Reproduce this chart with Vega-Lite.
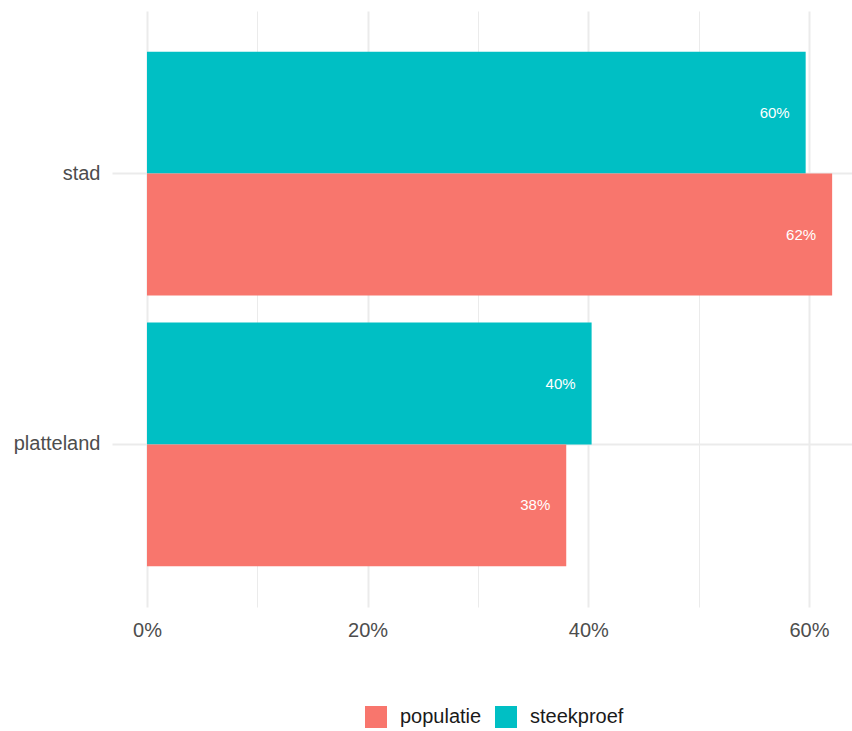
{
  "$schema": "https://vega.github.io/schema/vega-lite/v6.json",
  "width": 740,
  "height": 596,
  "autosize": "none",
  "padding": {"left": 112, "top": 11, "right": 0, "bottom": 124},
  "background": "white",
  "config": {
    "view": {"stroke": null},
    "font": "Liberation Sans",
    "axis": {"labelFont": "Liberation Sans", "titleFont": "Liberation Sans"},
    "legend": {"labelFont": "Liberation Sans"}
  },
  "data": {
    "values": [
      {"gebied": "stad", "groep": "steekproef", "aandeel": 0.597, "label": "60%"},
      {"gebied": "stad", "groep": "populatie", "aandeel": 0.621, "label": "62%"},
      {"gebied": "platteland", "groep": "steekproef", "aandeel": 0.403, "label": "40%"},
      {"gebied": "platteland", "groep": "populatie", "aandeel": 0.38, "label": "38%"}
    ]
  },
  "encoding": {
    "y": {
      "field": "gebied",
      "type": "nominal",
      "sort": ["stad", "platteland"],
      "scale": {"paddingInner": 0.1, "paddingOuter": 0.15},
      "axis": {
        "title": null,
        "domain": false,
        "ticks": false,
        "labelFontSize": 20,
        "labelColor": "#4D4D4D",
        "labelPadding": 12,
        "grid": true,
        "gridColor": "#EBEBEB",
        "gridWidth": 2,
        "bandPosition": 0.5
      }
    },
    "yOffset": {
      "field": "groep",
      "type": "nominal",
      "sort": ["steekproef", "populatie"],
      "scale": {"paddingInner": 0, "paddingOuter": 0}
    }
  },
  "layer": [
    {
      "mark": {"type": "bar"},
      "encoding": {
        "x": {
          "field": "aandeel",
          "type": "quantitative",
          "scale": {"domain": [-0.0317, 0.639], "nice": false, "zero": false},
          "axis": {
            "title": null,
            "orient": "bottom",
            "values": [0.1, 0.3, 0.5],
            "labels": false,
            "ticks": false,
            "domain": false,
            "grid": true,
            "gridColor": "#EBEBEB",
            "gridWidth": 1
          }
        },
        "x2": {"datum": 0},
        "color": {
          "field": "groep",
          "type": "nominal",
          "scale": {"domain": ["populatie", "steekproef"], "range": ["#F8766D", "#00BFC4"]},
          "legend": {
            "title": null,
            "orient": "none",
            "direction": "horizontal",
            "legendX": 253,
            "legendY": 695,
            "padding": 0,
            "symbolType": "square",
            "symbolSize": 484,
            "symbolStrokeWidth": 0,
            "symbolOpacity": 1,
            "labelFontSize": 20,
            "labelColor": "#1A1A1A",
            "labelOffset": 13,
            "columnPadding": 13
          }
        }
      }
    },
    {
      "mark": {"type": "text", "align": "right", "baseline": "middle", "dx": -16, "color": "white", "fontSize": 15},
      "encoding": {
        "x": {
          "field": "aandeel",
          "type": "quantitative",
          "axis": {
            "title": null,
            "orient": "bottom",
            "values": [0, 0.2, 0.4, 0.6],
            "format": ".0%",
            "domain": false,
            "ticks": false,
            "labelFontSize": 20,
            "labelColor": "#4D4D4D",
            "labelPadding": 13,
            "grid": true,
            "gridColor": "#EBEBEB",
            "gridWidth": 2
          }
        },
        "text": {"field": "label"}
      }
    }
  ],
  "resolve": {"axis": {"x": "independent"}}
}
